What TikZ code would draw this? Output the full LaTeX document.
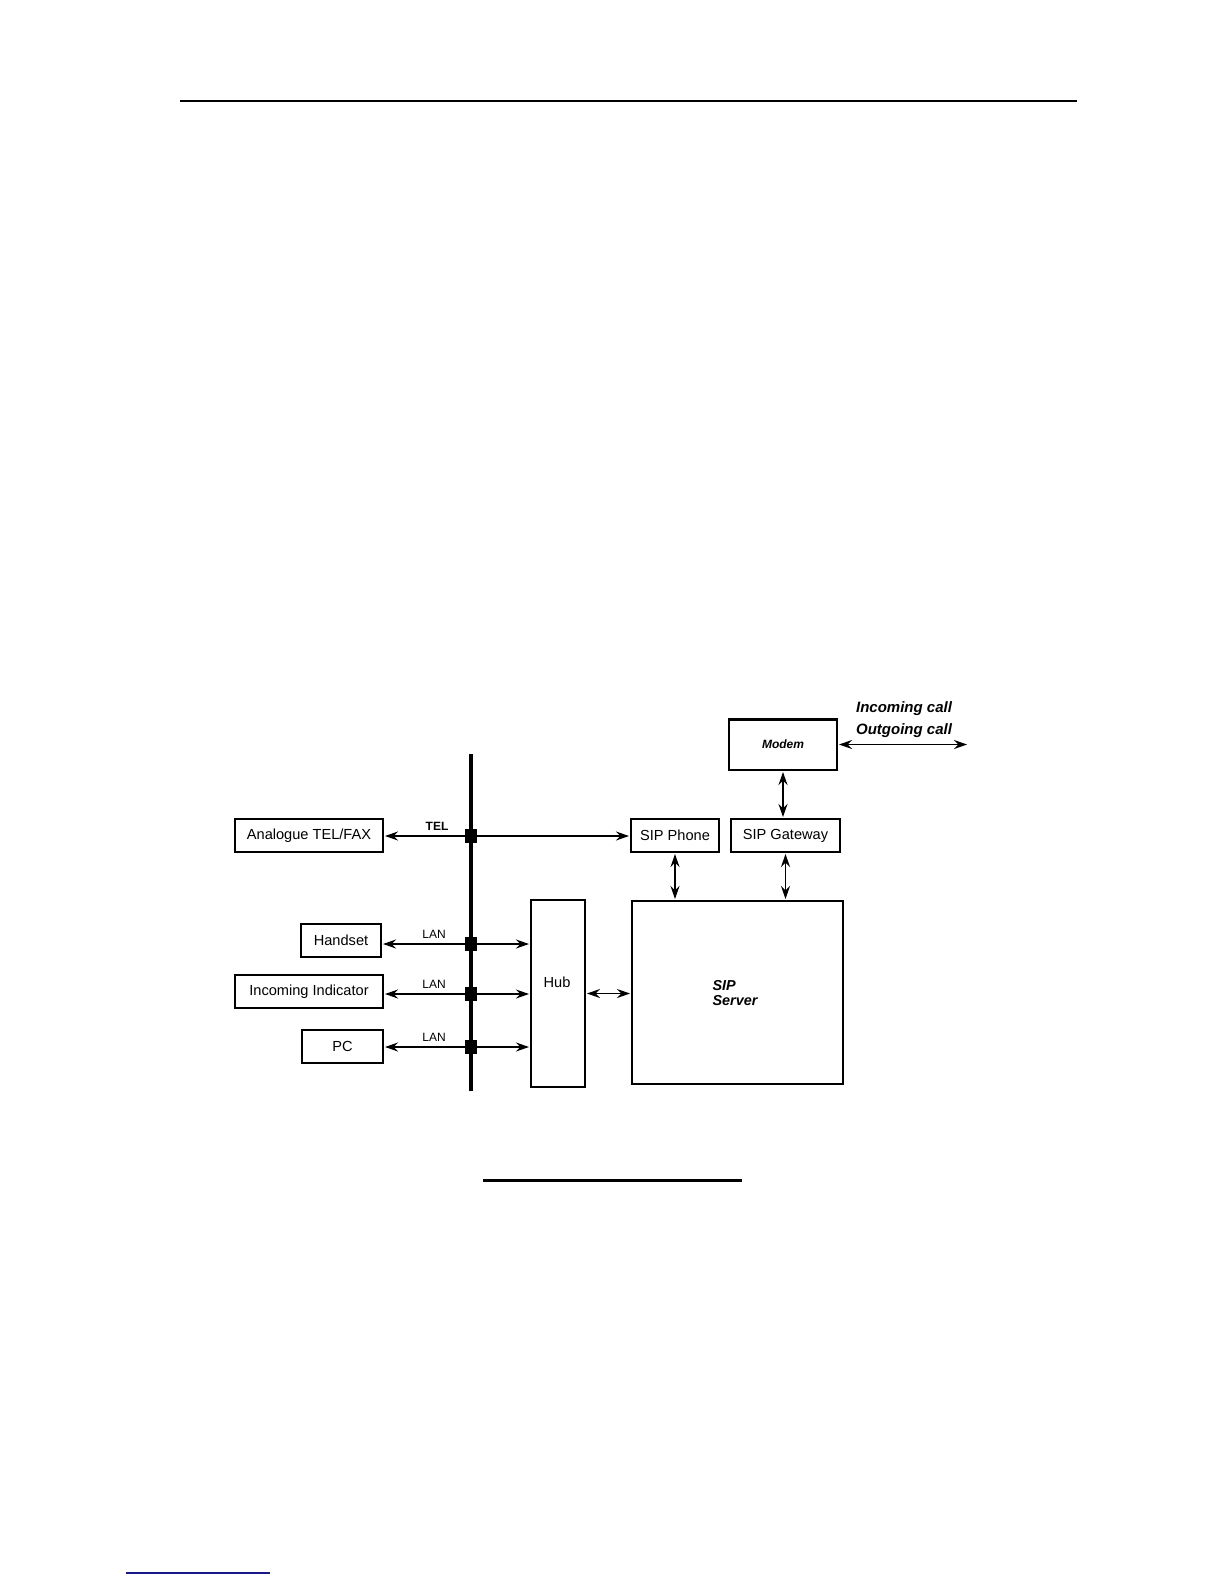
\documentclass[tikz,border=0pt]{standalone}
\usepackage{fontspec}
\setmainfont{Liberation Sans}
\usetikzlibrary{arrows.meta}
\definecolor{linkBlue}{RGB}{25, 25, 140}

\begin{document}
\begin{tikzpicture}[x=0.5pt, y=-0.5pt,
    box/.style={draw, line width=0.8pt, inner sep=0pt, outer sep=0pt,
      minimum height=16.5pt, font=\fontsize{7.3}{9}\selectfont},
    jack/.style={fill=black, inner sep=0pt, outer sep=0pt,
      minimum width=6pt, minimum height=7pt},
    tag/.style={font=\fontsize{6}{7}\selectfont},
    bold/.style={font=\fontsize{7.5}{9}\selectfont\bfseries\itshape},
    link/.style={line width=0.75pt,
      {Stealth[length=6.5pt,width=4.5pt,inset=2.2pt]}-{Stealth[length=6.5pt,width=4.5pt,inset=2.2pt]},
      shorten <=1pt, shorten >=1pt},
    tip/.style={line width=0.75pt, -{Stealth[length=6.5pt,width=4.5pt,inset=2.2pt]},
      shorten >=1pt}]
  \useasboundingbox (0,0) rectangle (1224,1584);
  % page rules
  \draw[line width=0.75pt] (180,101) -- (1077,101);
  \draw[line width=1.5pt] (483,1180) -- (742,1180);
  \draw[linkBlue, line width=0.75pt] (126,1573) -- (270,1573);

  % bus
  \coordinate (bustop) at (471,754);
  \coordinate (busbot) at (471,1091);
  \draw[line width=1.6pt] (bustop) -- (busbot);

  % modem and line out
  \node[box, minimum width=54pt, minimum height=25.5pt,
    font=\fontsize{6}{7}\selectfont\bfseries\itshape] (modem) at (783,744.5) {Modem};
  \draw[line width=1.5pt] (modem.north west) -- (modem.north east);
  \node[bold] (incall) at (904,709) {Incoming call};
  \node[bold] (outcall) at (904,731) {Outgoing call};
  \coordinate (pstn) at (969,744.5);
  \draw[link] (modem) -- (pstn);

  % TEL row
  \node[box, minimum width=74pt] (telfax) at (309,835.5) {Analogue TEL/FAX};
  \node[box, minimum width=44pt] (sipphone) at (675,835.5) {SIP Phone};
  \node[box, minimum width=54.5pt] (sipgw) at (785.5,835.5) {SIP Gateway};
  \node[jack] (jtel) at (471,836) {};
  \node[tag, font=\fontsize{6}{7}\selectfont\bfseries] (teltag) at (437,826) {TEL};
  \draw[tip] (jtel) -- (telfax.east |- jtel);
  \draw[tip] (jtel) -- (sipphone.west |- jtel);

  % hub and server
  \node[box, minimum width=105.5pt, minimum height=91.5pt] (server) at (737.5,992.5) {};
  \node[bold, font=\fontsize{7.2}{7.6}\selectfont\bfseries\itshape, align=left]
    (servertxt) at (735,993) {SIP\\Server};
  \node[box, minimum width=27pt, minimum height=93.5pt] (hub) at (558,993.5) {};
  \node[font=\fontsize{7.3}{9}\selectfont] (hubtxt) at (557,982) {Hub};

  % LAN rows
  \node[box, minimum width=40pt] (handset) at (341,940.5) {Handset};
  \node[box, minimum width=74pt, line width=1pt] (indicator) at (309,991.5) {Incoming Indicator};
  \node[box, minimum width=40.5pt] (pc) at (342.5,1046.5) {PC};
  \foreach \dev/\y in {handset/944, indicator/994, pc/1047} {
    \node[jack] (j\dev) at (471,\y) {};
    \node[tag] (lan\dev) at (434,\y-10) {LAN};
    \draw[tip] (j\dev) -- (\dev.east |- j\dev);
    \draw[tip] (j\dev) -- (hub.west |- j\dev);
  }

  % links to server
  \draw[link] (modem.south) -- (modem.south |- sipgw.north);
  \draw[link] (sipphone.south) -- (sipphone.south |- server.north);
  \draw[link] (sipgw.south) -- (sipgw.south |- server.north);
  \draw[link] (hub.east) -- (server.west |- hub.east);
\end{tikzpicture}
\end{document}
